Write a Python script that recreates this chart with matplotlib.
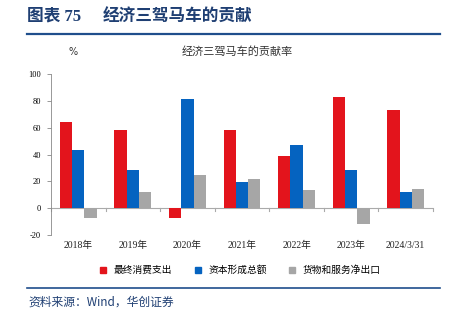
import matplotlib
matplotlib.use("Agg")
import matplotlib.pyplot as plt
import numpy as np
from matplotlib.lines import Line2D

categories = ["2018年", "2019年", "2020年", "2021年", "2022年", "2023年", "2024/3/31"]
consumption = [64.0, 58.5, -7.0, 58.0, 39.0, 82.5, 73.5]
capital = [43.0, 28.5, 81.5, 19.5, 46.8, 28.5, 11.7]
net_export = [-7.0, 12.0, 25.0, 21.5, 13.5, -11.5, 14.2]
series_names = ["最终消费支出", "资本形成总额", "货物和服务净出口"]
colors = ["#E3141C", "#0563C0", "#A6A6A6"]
yticks = [-20, 0, 20, 40, 60, 80, 100]

plt.rcParams['font.family'] = ['Liberation Serif', 'Noto Sans CJK SC']
fig = plt.figure(figsize=(4.51, 3.22), dpi=100)
ax = fig.add_axes([51/451, 1-235/322, (433-51)/451, (235-74)/322])

x = np.arange(len(categories))
w = 0.225
for i, (vals, c) in enumerate(zip([consumption, capital, net_export], colors)):
    ax.bar(x + (i-1)*w, vals, width=w, color=c, zorder=2)

ax.set_xlim(-0.5, len(categories)-0.5)
ax.set_ylim(-20, 100)
ax.set_yticks(yticks)
ax.set_yticklabels([str(t) for t in yticks], fontsize=6)
ax.tick_params(axis='y', length=3, width=0.6, color='#888888', pad=4)
for s in ['top', 'right']:
    ax.spines[s].set_visible(False)
ax.spines['bottom'].set_visible(False)
ax.spines['left'].set_color('#888888')
ax.spines['left'].set_linewidth(0.6)
ax.axhline(0, color='#AAAAAA', lw=0.8, zorder=1)
ax.set_xticks([])
for b in np.arange(-0.5, len(categories), 1.0):
    ax.plot([b, b], [0, -1.8], color='#AAAAAA', lw=0.8, clip_on=False)
for xi, lab in zip(x, categories):
    ax.text(xi, -27.5, lab, ha='center', va='center', fontsize=7,
            family=['Liberation Serif', 'Noto Sans CJK SC'], color='#222222')

# title
fig.text(27/451, 1-17/322, "图表 75", fontsize=12, fontweight='bold', color='#1F3F73',
         family=['Liberation Serif', 'Noto Sans CJK SC'], va='center', ha='left')
fig.text(103/451, 1-17/322, "经济三驾马车的贡献", fontsize=12, fontweight='bold', color='#1F3F73',
         family=['Noto Sans CJK SC'], va='center', ha='left')
fig.add_artist(Line2D([27/451, 440/451], [1-34/322, 1-34/322], color='#1F4E8C', lw=1.6))
fig.text(73/451, 1-52/322, "%", fontsize=7, color='#333333', ha='center', va='center',
         family=['DejaVu Sans'])
fig.text(237/451, 1-51/322, "经济三驾马车的贡献率", fontsize=8, color='#333333', ha='center', va='center',
         family=['Noto Sans CJK SC'])

# legend
handles = [Line2D([], [], marker='s', ls='', color=c, markersize=4) for c in colors]
fig.legend(handles, series_names, loc='center', bbox_to_anchor=(237/451, 1-270/322), ncol=3,
           frameon=False, handletextpad=0.1, columnspacing=1.6,
           prop={'family': ['Noto Sans CJK SC'], 'size': 7})

fig.add_artist(Line2D([27/451, 440/451], [1-288/322, 1-288/322], color='#1F4E8C', lw=1.2))
fig.text(28/451, 1-302/322, "资料来源：Wind，华创证券", fontsize=8.5, color='#1F3F73', style='italic',
         family=['Noto Sans CJK SC'], ha='left', va='center')

fig.savefig("out.png", dpi=100)
